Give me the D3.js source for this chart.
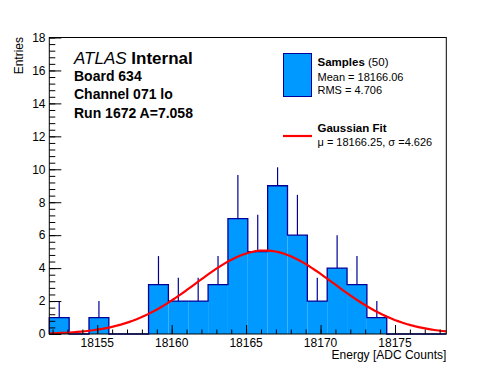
<!DOCTYPE html>
<html>
<head>
<meta charset="utf-8">
<script src="https://cdn.jsdelivr.net/npm/d3@7"></script>
<style>
  html, body { margin: 0; padding: 0; background: #fff; }
  svg { display: block; font-family: "Liberation Sans", Arial, Helvetica, sans-serif; }
</style>
</head>
<body>
<div id="chart"></div>
<script>
// Histogram of samples (20 bins across the axis range)
const binStart = 18151.78;
const binWidth = 4 / 3;
const counts = [1, 0, 1, 0, 0, 3, 2, 2, 3, 7, 5, 9, 6, 2, 4, 3, 1, 0, 0, 0];
// error bar half-lengths
const errors = [1, 0, 1, 0, 0, 1.73, 1.41, 1.41, 1.73, 2.65, 2.24, 1.12, 2.45, 1.41, 2, 1.73, 1, 0, 0, 0];

// Gaussian fit parameters (from the legend), amplitude read from the peak
const fitMu = 18166.25;
const fitSigma = 4.626;
const fitAmp = 5.07;

const yTicks = [0, 2, 4, 6, 8, 10, 12, 14, 16, 18];
const xTicks = [18155, 18160, 18165, 18170, 18175];

const headerLines = ['Board 634', 'Channel 071 lo', 'Run 1672 A=7.058'];

const W = 496, H = 372;
const frame = { left: 49.3, right: 446.3, top: 37.5, bottom: 334 };

const svg = d3.select('#chart').append('svg')
  .attr('width', W)
  .attr('height', H);

const xMin = binStart;
const xMax = binStart + counts.length * binWidth;

const x = d3.scaleLinear().domain([xMin, xMax]).range([frame.left, frame.right]);
const y = d3.scaleLinear().domain([0, 18]).range([frame.bottom, frame.top]);

const blueFill = '#0099ff';
const blueLine = '#000099';

const bins = counts.map((c, i) => ({
  x0: binStart + i * binWidth,
  x1: binStart + (i + 1) * binWidth,
  c,
  e: errors[i]
}));

// error bars sit beneath the filled bars
svg.append('g').selectAll('line')
  .data(bins.filter(b => b.c > 0))
  .join('line')
  .attr('x1', d => x((d.x0 + d.x1) / 2))
  .attr('x2', d => x((d.x0 + d.x1) / 2))
  .attr('y1', d => y(d.c - d.e))
  .attr('y2', d => y(d.c + d.e))
  .attr('stroke', blueLine)
  .attr('stroke-width', 1.2);

// filled bars
svg.append('g').selectAll('rect')
  .data(bins.filter(b => b.c > 0))
  .join('rect')
  .attr('x', d => x(d.x0))
  .attr('width', d => x(d.x1) - x(d.x0))
  .attr('y', d => y(d.c))
  .attr('height', d => y(0) - y(d.c))
  .attr('fill', blueFill);

// step outline
const steps = [[xMin, 0]];
bins.forEach(b => { steps.push([b.x0, b.c]); steps.push([b.x1, b.c]); });
steps.push([xMax, 0]);
svg.append('path')
  .attr('d', d3.line().x(d => x(d[0])).y(d => y(d[1]))(steps))
  .attr('fill', 'none')
  .attr('stroke', blueLine)
  .attr('stroke-width', 1.3);

// gaussian fit curve
const gauss = v => fitAmp * Math.exp(-((v - fitMu) ** 2) / (2 * fitSigma * fitSigma));
const fitPts = d3.range(0, 101).map(i => {
  const v = xMin + (xMax - xMin) * i / 100;
  return [v, gauss(v)];
});
svg.append('path')
  .attr('d', d3.line().x(d => x(d[0])).y(d => y(d[1]))(fitPts))
  .attr('fill', 'none')
  .attr('stroke', '#ff0000')
  .attr('stroke-width', 2.2);

// axes (ticks point inward)
const yMinor = d3.range(0, 18.001, 0.4);
svg.append('g')
  .attr('transform', `translate(${frame.left},0)`)
  .call(d3.axisRight(y).tickValues(yMinor).tickSize(6).tickFormat(''))
  .call(g => g.select('.domain').remove());
svg.append('g')
  .attr('transform', `translate(${frame.left},0)`)
  .call(d3.axisRight(y).tickValues(yTicks).tickSize(12).tickFormat(''))
  .call(g => g.select('.domain').remove());
svg.append('g').selectAll('text')
  .data(yTicks)
  .join('text')
  .attr('x', 45.5)
  .attr('y', d => y(d) + 4.3)
  .attr('text-anchor', 'end')
  .style('font-size', '12px')
  .text(d => d);

const xMinor = d3.range(18152, 18179, 1);
svg.append('g')
  .attr('transform', `translate(0,${frame.bottom})`)
  .call(d3.axisTop(x).tickValues(xMinor).tickSize(4.5).tickFormat(''))
  .call(g => g.select('.domain').remove());
svg.append('g')
  .attr('transform', `translate(0,${frame.bottom})`)
  .call(d3.axisTop(x).tickValues(xTicks).tickSize(9).tickFormat(''))
  .call(g => g.select('.domain').remove());
svg.append('g').selectAll('text')
  .data(xTicks)
  .join('text')
  .attr('x', d => x(d))
  .attr('y', 347)
  .attr('text-anchor', 'middle')
  .style('font-size', '12px')
  .text(d => d);

svg.selectAll('.tick line').attr('stroke', '#000').attr('stroke-width', 1);

// frame
svg.append('rect')
  .attr('x', frame.left)
  .attr('y', frame.top)
  .attr('width', frame.right - frame.left)
  .attr('height', frame.bottom - frame.top)
  .attr('fill', 'none')
  .attr('stroke', '#000')
  .attr('stroke-width', 1);

// axis titles
svg.append('text')
  .attr('transform', 'translate(23,37) rotate(-90)')
  .attr('text-anchor', 'end')
  .style('font-size', '12px')
  .text('Entries');
svg.append('text')
  .attr('x', frame.right)
  .attr('y', 358.5)
  .attr('text-anchor', 'end')
  .style('font-size', '12px')
  .text('Energy [ADC Counts]');

// ATLAS label block
const atlas = svg.append('text').attr('x', 74).attr('y', 64).style('font-size', '17px');
atlas.append('tspan').style('font-style', 'italic').text('ATLAS ');
atlas.append('tspan').style('font-weight', 'bold').text('Internal');
svg.append('g').selectAll('text')
  .data(headerLines)
  .join('text')
  .attr('x', 74)
  .attr('y', (d, i) => 81 + i * 18.3)
  .style('font-size', '14px')
  .style('font-weight', 'bold')
  .text(d => d);

// legend
svg.append('rect')
  .attr('x', 283.5).attr('y', 53.5)
  .attr('width', 28).attr('height', 43)
  .attr('fill', blueFill)
  .attr('stroke', blueLine)
  .attr('stroke-width', 1);
const sTitle = svg.append('text').attr('x', 317.5).attr('y', 66).style('font-size', '11.5px');
sTitle.append('tspan').style('font-weight', 'bold').text('Samples');
sTitle.append('tspan').text(' (50)');
svg.append('text').attr('x', 317.5).attr('y', 80.5).style('font-size', '11px').text('Mean = 18166.06');
svg.append('text').attr('x', 317.5).attr('y', 94).style('font-size', '11px').text('RMS = 4.706');

svg.append('line')
  .attr('x1', 283).attr('x2', 312)
  .attr('y1', 136).attr('y2', 136)
  .attr('stroke', '#ff0000')
  .attr('stroke-width', 2.2);
svg.append('text').attr('x', 317.5).attr('y', 132).style('font-size', '11.5px').style('font-weight', 'bold').text('Gaussian Fit');
svg.append('text').attr('x', 317.5).attr('y', 145.5).style('font-size', '11px').text('\u03bc = 18166.25, \u03c3 =4.626');
</script>
</body>
</html>
